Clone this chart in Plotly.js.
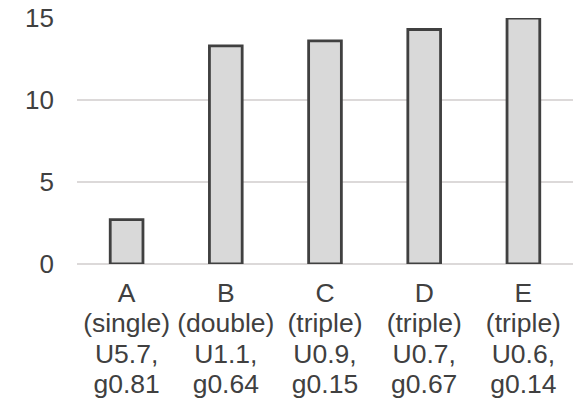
<!DOCTYPE html>
<html>
<head>
<meta charset="utf-8">
<script src="https://cdn.plot.ly/plotly-3.0.1.min.js"></script>
<style>html,body{margin:0;padding:0;background:#fff;}#chart{width:581px;height:401px;}</style>
</head>
<body>
<div id="chart"></div>
<script>
const categories = ["A", "B", "C", "D", "E"];
const structures = ["(single)", "(double)", "(triple)", "(triple)", "(triple)"];
const uValues = ["U5.7,", "U1.1,", "U0.9,", "U0.7,", "U0.6,"];
const gValues = ["g0.81", "g0.64", "g0.15", "g0.67", "g0.14"];
const values = [2.7, 13.3, 13.6, 14.3, 15.0];
const yTicks = [0, 5, 10, 15];

const big = s => '<span style="font-size:26.5px">' + s + '</span>';
const tickText = categories.map((c, i) => [c, structures[i], uValues[i], gValues[i]].map(big).join("<br>"));

const trace = {
  type: "bar",
  x: categories,
  y: values,
  marker: { color: "#d9d9d9", line: { color: "#404040", width: 2.8 } },
  hoverinfo: "none"
};

const layout = {
  width: 581, height: 401,
  margin: { l: 77, r: 8, t: 18, b: 137 },
  paper_bgcolor: "#ffffff", plot_bgcolor: "#ffffff",
  font: { family: "Liberation Sans, Arial, sans-serif", color: "#404040", size: 24 },
  bargap: 0.67,
  showlegend: false,
  xaxis: {
    type: "category",
    tickvals: categories,
    ticktext: tickText,
    showgrid: false, zeroline: false, showline: false, ticks: "",
    tickfont: { size: 23.5, color: "#404040" },
    ticklabelstandoff: 13
  },
  yaxis: {
    range: [0, 15],
    tickvals: yTicks,
    showgrid: true, gridcolor: "#dcd9d9", gridwidth: 1.5,
    zeroline: true, zerolinecolor: "#dcd9d9", zerolinewidth: 1.5,
    showline: false, ticks: "",
    tickfont: { size: 26, color: "#404040" },
    ticklabelstandoff: 22
  }
};

Plotly.newPlot("chart", [trace], layout, { staticPlot: true, displayModeBar: false });
</script>
</body>
</html>
